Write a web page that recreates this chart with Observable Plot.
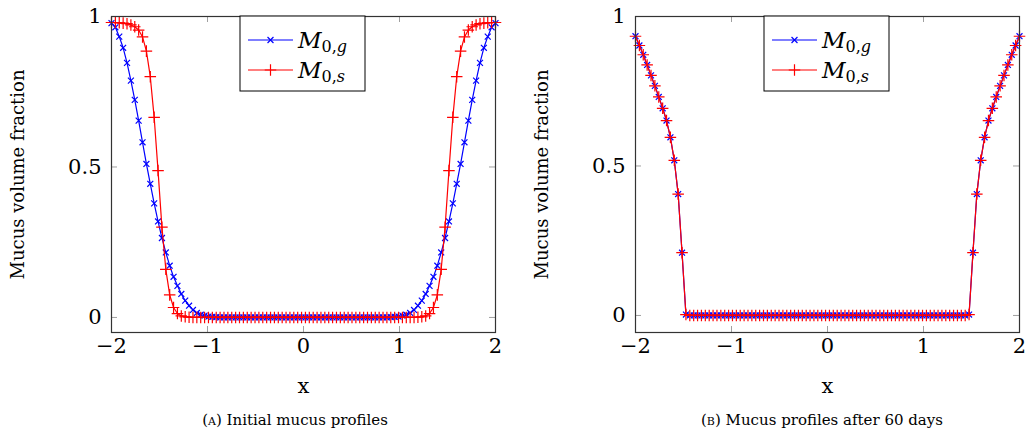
<!DOCTYPE html>
<html><head><meta charset="utf-8">
<script src="https://cdn.jsdelivr.net/npm/d3@7"></script>
<script src="https://cdn.jsdelivr.net/npm/@observablehq/plot@0.6"></script>
<style>
body{margin:0;background:#fff;}
#wrap{position:relative;width:1026px;height:436px;overflow:hidden;font-family:"DejaVu Serif";background:#fff;}
.panel{position:absolute;top:0;}
.panel text{font-family:"DejaVu Serif";}
.cap{position:absolute;top:411px;font-size:15px;transform:translateX(-50%);white-space:nowrap;color:#000;}
.sc{font-variant:small-caps;}
</style></head><body><div id="wrap"></div>
<script>
// grid (100 points between -2 and 2)
const xs = [-2,-1.9596,-1.9192,-1.8788,-1.8384,-1.798,-1.7576,-1.7172,-1.6768,-1.6364,-1.596,-1.5556,-1.5152,-1.4747,-1.4343,-1.3939,-1.3535,-1.3131,-1.2727,-1.2323,-1.1919,-1.1515,-1.1111,-1.0707,-1.0303,-0.9899,-0.9495,-0.9091,-0.8687,-0.8283,-0.7879,-0.7475,-0.7071,-0.6667,-0.6263,-0.5859,-0.5455,-0.5051,-0.4646,-0.4242,-0.3838,-0.3434,-0.303,-0.2626,-0.2222,-0.1818,-0.1414,-0.101,-0.0606,-0.0202,
0.0202,0.0606,0.101,0.1414,0.1818,0.2222,0.2626,0.303,0.3434,0.3838,0.4242,0.4646,0.5051,0.5455,0.5859,0.6263,0.6667,0.7071,0.7475,0.7879,0.8283,0.8687,0.9091,0.9495,0.9899,1.0303,1.0707,1.1111,1.1515,1.1919,1.2323,1.2727,1.3131,1.3535,1.3939,1.4343,1.4747,1.5152,1.5556,1.596,1.6364,1.6768,1.7172,1.7576,1.798,1.8384,1.8788,1.9192,1.9596,2];

// (A) initial profiles
const initG = [0.978,0.964,0.933,0.896,0.846,0.787,0.723,0.654,0.582,0.510,0.444,0.379,0.319,0.264,0.216,0.172,0.135,0.105,0.078,0.056,0.039,0.025,0.015,0.009,0.006,0.003,0.002,0.001,0,0,
0,0,0,0,0,0,0,0,0,0,0,0,0,0,0,0,0,0,0,0,
0,0,0,0,0,0,0,0,0,0,0,0,0,0,0,0,0,0,0,0,
0,0,0.001,0.002,0.003,0.006,0.009,0.015,0.025,0.039,0.056,0.078,0.105,0.135,0.172,0.216,0.264,0.319,0.379,0.444,0.510,0.582,0.654,0.723,0.787,0.846,0.896,0.933,0.964,0.978];
const initS = [0.980,0.980,0.979,0.978,0.976,0.972,0.966,0.955,0.932,0.885,0.800,0.665,0.488,0.300,0.160,0.075,0.033,0.013,0.005,0.002,0.001,0,0,0,0,0,0,0,0,0,
0,0,0,0,0,0,0,0,0,0,0,0,0,0,0,0,0,0,0,0,
0,0,0,0,0,0,0,0,0,0,0,0,0,0,0,0,0,0,0,0,
0,0,0,0,0,0,0,0,0,0.001,0.002,0.005,0.013,0.033,0.075,0.160,0.300,0.488,0.665,0.800,0.885,0.932,0.955,0.966,0.972,0.976,0.978,0.979,0.980,0.980];

// (B) after 60 days
const day60G = [0.934,0.903,0.872,0.838,0.803,0.768,0.731,0.693,0.652,0.596,0.519,0.406,0.210,0.003,0,0,0,0,0,0,
0,0,0,0,0,0,0,0,0,0,0,0,0,0,0,0,0,0,0,0,0,0,0,0,0,0,0,0,0,0,
0,0,0,0,0,0,0,0,0,0,0,0,0,0,0,0,0,0,0,0,0,0,0,0,0,0,0,0,0,0,
0,0,0,0,0,0,0.003,0.210,0.406,0.519,0.596,0.652,0.693,0.731,0.768,0.803,0.838,0.872,0.903,0.934];
const day60S = [0.934,0.903,0.872,0.838,0.803,0.768,0.731,0.693,0.652,0.596,0.519,0.406,0.210,0.003,0,0,0,0,0,0,
0,0,0,0,0,0,0,0,0,0,0,0,0,0,0,0,0,0,0,0,0,0,0,0,0,0,0,0,0,0,
0,0,0,0,0,0,0,0,0,0,0,0,0,0,0,0,0,0,0,0,0,0,0,0,0,0,0,0,0,0,
0,0,0,0,0,0,0.003,0.210,0.406,0.519,0.596,0.652,0.693,0.731,0.768,0.803,0.838,0.872,0.903,0.934];

const xTicks = [-2,-1,0,1,2];
const yTicks = [0,0.5,1];
const xLabel = "x";
const yLabel = "Mucus volume fraction";
const captions = [["A","Initial mucus profiles"],["B","Mucus profiles after 60 days"]];
const BLUE = "#0000ff", RED = "#ff0000";
const fmt = d => String(d).replace("-", "\u2212");

const wrap = document.getElementById("wrap");

function panel({g, s, yMin, left, width, marginRight}) {
  const H = 400, mT = 16, mB = 68, mL = 111;
  const innerH = H - mT - mB;
  const innerW = width - mL - marginRight;
  const dg = xs.map((x, i) => ({x, y: g[i]}));
  const ds = xs.map((x, i) => ({x, y: s[i]}));
  const inner = xTicks.slice(1, -1);
  const innerY = yTicks.slice(0, -1);
  const svg = Plot.plot({
    width, height: H, marginTop: mT, marginBottom: mB, marginLeft: mL, marginRight,
    style: "font-family:'DejaVu Serif';font-size:21px;color:#000;background:transparent;overflow:visible;",
    x: {domain: [-2, 2], labelArrow: "none"},
    y: {domain: [yMin, 1], labelArrow: "none"},
    marks: [
      Plot.tickX(inner, {x: d => d, insetTop: innerH - 6, stroke: "#a0a0a0", strokeWidth: 1}),
      Plot.tickX(inner, {x: d => d, insetBottom: innerH - 6, stroke: "#a0a0a0", strokeWidth: 1}),
      Plot.tickY(innerY, {y: d => d, insetRight: innerW - 6, stroke: "#a0a0a0", strokeWidth: 1}),
      Plot.tickY(innerY, {y: d => d, insetLeft: innerW - 6, stroke: "#a0a0a0", strokeWidth: 1}),
      Plot.line(dg, {x: "x", y: "y", stroke: BLUE, strokeWidth: 1.2}),
      Plot.dot(dg, {x: "x", y: "y", symbol: "times", r: 2.8, stroke: BLUE, strokeWidth: 1.2}),
      Plot.line(ds, {x: "x", y: "y", stroke: RED, strokeWidth: 1.2}),
      Plot.dot(ds, {x: "x", y: "y", symbol: "plus", r: 3.8, stroke: RED, strokeWidth: 1.2}),
      Plot.frame({stroke: "#333", strokeWidth: 1.2}),
      Plot.axisX({ticks: xTicks, tickFormat: fmt, tickSize: 0, tickPadding: 6, label: xLabel, labelAnchor: "center", labelOffset: 60, labelArrow: "none"}),
      Plot.axisY({ticks: yTicks, tickFormat: fmt, tickSize: 0, tickPadding: 10, label: yLabel, labelAnchor: "center", labelOffset: 100, labelArrow: "none"})
    ]
  });
  svg.classList.add("panel");
  svg.style.left = left + "px";
  // axis title font (keep its length matching the reference)
  d3.select(svg).selectAll("text").filter(function() { return this.textContent === yLabel; })
    .attr("font-size", 18);
  // legend
  const lg = d3.select(svg).append("g").attr("transform", "translate(240,16)");
  lg.append("rect").attr("x", 0).attr("y", 0).attr("width", 125).attr("height", 75)
    .attr("fill", "#fff").attr("stroke", "#000").attr("stroke-width", 1);
  const entries = [
    {c: BLUE, sym: d3.symbolTimes, size: Math.PI * 2.8 * 2.8, sub: "g", y: 24},
    {c: RED, sym: d3.symbolPlus, size: Math.PI * 3.8 * 3.8, sub: "s", y: 54}
  ];
  for (const e of entries) {
    lg.append("line").attr("x1", 8).attr("x2", 53).attr("y1", e.y).attr("y2", e.y)
      .attr("stroke", e.c).attr("stroke-width", 1.2);
    lg.append("path").attr("d", d3.symbol(e.sym, e.size)()).attr("transform", `translate(30.5,${e.y})`)
      .attr("fill", "none").attr("stroke", e.c).attr("stroke-width", 1.2);
    const t = lg.append("text").attr("x", 58).attr("y", e.y + 8).attr("text-anchor", "start")
      .attr("font-family", "DejaVu Serif").attr("font-size", 23).attr("fill", "#000");
    t.append("tspan").attr("font-style", "italic").text("M");
    t.append("tspan").attr("font-size", 16).attr("dy", 4).text("0,");
    t.append("tspan").attr("font-size", 16).attr("font-style", "italic").text(e.sub);
  }
  wrap.appendChild(svg);
}

panel({g: initG, s: initS, yMin: -0.05, left: 0, width: 513, marginRight: 18});
panel({g: day60G, s: day60S, yMin: -0.057, left: 524, width: 502, marginRight: 7});

const capX = [295, 822];
captions.forEach(([k, t], i) => {
  const d = document.createElement("div");
  d.className = "cap";
  d.style.left = capX[i] + "px";
  d.innerHTML = `(<span class="sc">${k.toLowerCase()}</span>) ${t}`;
  wrap.appendChild(d);
});
</script></body></html>
